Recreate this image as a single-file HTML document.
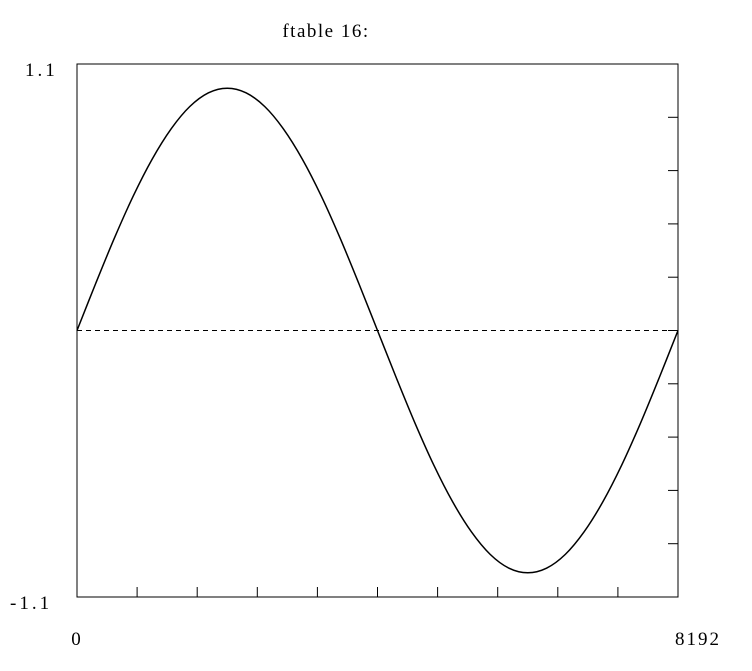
<!DOCTYPE html>
<html><head><meta charset="utf-8"><style>
html,body{margin:0;padding:0;background:#fff;width:752px;height:671px;overflow:hidden}
text{font-family:"Liberation Serif",serif;font-size:19px;fill:#000}
</style></head><body>
<svg id="chart" width="752" height="671" viewBox="0 0 752 671">
<text x="326" y="37" text-anchor="middle" letter-spacing="1.5">ftable 16:</text>
<rect x="77" y="64" width="601" height="533" fill="none" stroke="#000" stroke-width="1"/>
<line x1="77" y1="330.5" x2="678" y2="330.5" stroke="#000" stroke-dasharray="5,4"/>
<text x="25" y="76" letter-spacing="3">1.1</text>
<text x="10" y="609" letter-spacing="3">-1.1</text>
<text x="76" y="645" text-anchor="middle">0</text>
<text x="698" y="645" text-anchor="middle" letter-spacing="2">8192</text>
<g id="ticks"></g>
<path id="wave" fill="none" stroke="#000" stroke-width="1.5"/>
</svg>
<script>
const xDomain = [0, 8192];
const yDomain = [-1.1, 1.1];
const sampleIndex = [0,256,512,768,1024,1280,1536,1792,2048,2304,2560,2816,3072,3328,3584,3840,4096,4352,4608,4864,5120,5376,5632,5888,6144,6400,6656,6912,7168,7424,7680,7936,8192];
const sampleValue = [0,0.195,0.383,0.556,0.707,0.831,0.924,0.981,1.0,0.981,0.924,0.831,0.707,0.556,0.383,0.195,0,-0.195,-0.383,-0.556,-0.707,-0.831,-0.924,-0.981,-1.0,-0.981,-0.924,-0.831,-0.707,-0.556,-0.383,-0.195,0];
const xTickCount = 10, yTickCount = 10;
const L=77,R=678,T=64,B=597;
function xs(v){return L+(v-xDomain[0])/(xDomain[1]-xDomain[0])*(R-L);}
function ys(v){return B-(v-yDomain[0])/(yDomain[1]-yDomain[0])*(B-T);}
const ns="http://www.w3.org/2000/svg";
const g=document.getElementById('ticks');
for(let i=1;i<xTickCount;i++){
  const x=xs(xDomain[0]+i*(xDomain[1]-xDomain[0])/xTickCount);
  const l=document.createElementNS(ns,'line');
  
  
  l.setAttribute('x1',x);l.setAttribute('x2',x);l.setAttribute('y1',B);l.setAttribute('y2',B-10);l.setAttribute('stroke','#000');
  g.appendChild(l);
}
for(let i=1;i<yTickCount;i++){
  const y=ys(yDomain[0]+i*(yDomain[1]-yDomain[0])/yTickCount);
  const l=document.createElementNS(ns,'line');
  
  
  l.setAttribute('x1',R);l.setAttribute('x2',R-10);l.setAttribute('y1',y);l.setAttribute('y2',y);l.setAttribute('stroke','#000');
  g.appendChild(l);
}
const pts=sampleIndex.map((s,i)=>[xs(s),ys(sampleValue[i])]);
let d='M'+pts[0][0]+','+pts[0][1];
for(let i=0;i<pts.length-1;i++){
  const p0=pts[Math.max(0,i-1)],p1=pts[i],p2=pts[i+1],p3=pts[Math.min(pts.length-1,i+2)];
  const c1x=p1[0]+(p2[0]-p0[0])/6,c1y=p1[1]+(p2[1]-p0[1])/6;
  const c2x=p2[0]-(p3[0]-p1[0])/6,c2y=p2[1]-(p3[1]-p1[1])/6;
  d+=' C'+c1x+','+c1y+' '+c2x+','+c2y+' '+p2[0]+','+p2[1];
}
document.getElementById('wave').setAttribute('d',d);
</script>
</body></html>
